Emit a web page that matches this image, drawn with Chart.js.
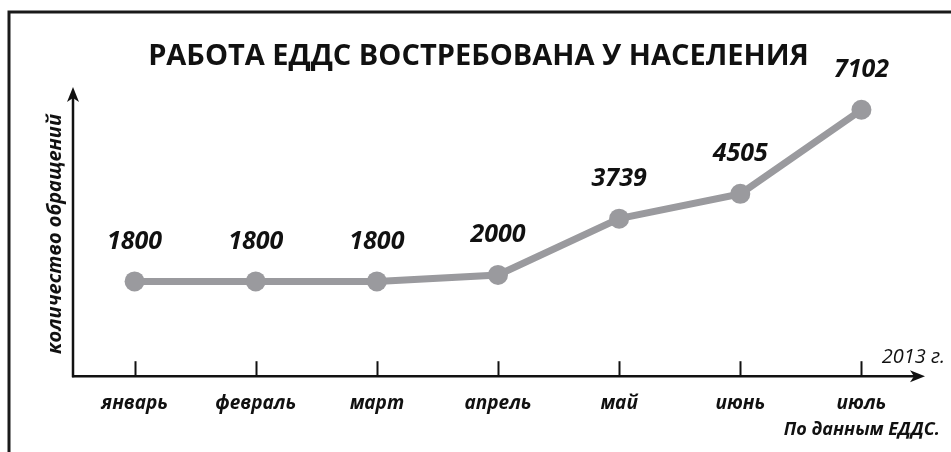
<!DOCTYPE html>
<html>
<head>
<meta charset="utf-8">
<script src="https://cdn.jsdelivr.net/npm/chart.js@4/dist/chart.umd.min.js"></script>
<style>
html,body{margin:0;padding:0;background:#fff;}
canvas{display:block;}
</style>
</head>
<body>
<canvas id="c" width="951" height="452"></canvas>
<script>
const months = ['январь','февраль','март','апрель','май','июнь','июль'];
const requests = [1800, 1800, 1800, 2000, 3739, 4505, 7102];
const chartTitle = 'РАБОТА ЕДДС ВОСТРЕБОВАНА У НАСЕЛЕНИЯ';
const yTitle = 'количество обращений';
const yearLabel = '2013 г.';
const sourceLabel = 'По данным ЕДДС.';

const FONT = '"Open Sans", "DejaVu Sans", sans-serif';

const decor = {
  id: 'decor',
  beforeDraw(chart) {
    const ctx = chart.ctx;
    ctx.save();
    ctx.strokeStyle = '#1a1a1a';
    ctx.lineWidth = 3;
    ctx.beginPath();
    ctx.moveTo(9, 452);
    ctx.lineTo(9, 12);
    ctx.lineTo(951, 12);
    ctx.stroke();
    ctx.restore();
  },
  afterDraw(chart) {
    const ctx = chart.ctx;
    const a = chart.chartArea;
    const xs = chart.scales.x;
    const x0 = a.left - 1, y0 = a.bottom;
    ctx.save();
    ctx.strokeStyle = '#111';
    ctx.fillStyle = '#111';
    ctx.lineWidth = 2.5;
    // y axis
    ctx.beginPath();
    ctx.moveTo(x0, y0 + 1);
    ctx.lineTo(x0, 96);
    ctx.stroke();
    ctx.beginPath();
    ctx.moveTo(x0, 87);
    ctx.lineTo(x0 - 6, 102);
    ctx.lineTo(x0, 98);
    ctx.lineTo(x0 + 6, 102);
    ctx.closePath();
    ctx.fill();
    // x axis
    ctx.beginPath();
    ctx.moveTo(x0 - 1, y0);
    ctx.lineTo(916, y0);
    ctx.stroke();
    ctx.beginPath();
    ctx.moveTo(925, y0);
    ctx.lineTo(910, y0 - 6);
    ctx.lineTo(914, y0);
    ctx.lineTo(910, y0 + 6);
    ctx.closePath();
    ctx.fill();
    // tick marks
    ctx.lineWidth = 2;
    months.forEach((m, i) => {
      const px = Math.round(xs.getPixelForValue(i)) + 0.5;
      ctx.beginPath();
      ctx.moveTo(px, y0 - 15);
      ctx.lineTo(px, y0);
      ctx.stroke();
    });
    // value labels
    const meta = chart.getDatasetMeta(0);
    ctx.font = 'italic 700 25px ' + FONT;
    ctx.textAlign = 'center';
    ctx.textBaseline = 'middle';
    meta.data.forEach((pt, i) => {
      ctx.fillText(String(requests[i]), pt.x, pt.y - 40);
    });
    // year and source
    ctx.textAlign = 'right';
    ctx.font = 'italic 500 20px ' + FONT;
    ctx.fillText(yearLabel, 945, 357);
    ctx.font = 'italic 700 18px ' + FONT;
    ctx.fillText(sourceLabel, 940, 430);
    ctx.restore();
  }
};

new Chart(document.getElementById('c'), {
  type: 'line',
  data: {
    labels: months,
    datasets: [{
      data: requests,
      borderColor: '#9a9a9e',
      backgroundColor: '#9a9a9e',
      borderWidth: 7,
      pointRadius: 10,
      pointHoverRadius: 10,
      pointBorderWidth: 0,
      tension: 0
    }]
  },
  options: {
    responsive: false,
    animation: false,
    events: [],
    layout: { padding: { left: 35, right: 29, top: 0, bottom: 21 } },
    plugins: {
      legend: { display: false },
      tooltip: { enabled: false },
      title: {
        display: true,
        text: chartTitle,
        color: '#111',
        font: { family: FONT, size: 29, weight: 'bold' },
        padding: { top: 39, bottom: 18 }
      }
    },
    scales: {
      x: {
        offset: true,
        grid: { display: false, drawTicks: false },
        border: { display: false },
        ticks: { color: '#111', padding: 16, font: { family: FONT, size: 19, style: 'italic', weight: '700' } }
      },
      y: {
        min: -1128,
        max: 7657,
        grid: { display: false, drawTicks: false },
        border: { display: false },
        ticks: { display: false },
        title: {
          display: true,
          text: yTitle,
          color: '#111',
          font: { family: FONT, size: 20, style: 'italic', weight: '700' },
          padding: { top: 8, bottom: 7 }
        }
      }
    }
  },
  plugins: [decor]
});
</script>
</body>
</html>
